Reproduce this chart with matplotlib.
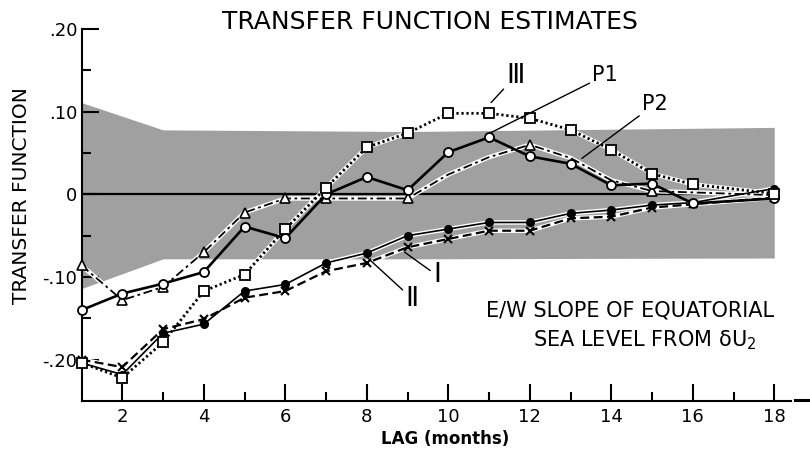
import matplotlib
matplotlib.use("Agg")
import matplotlib.pyplot as plt
from matplotlib.lines import Line2D

plt.rcParams['font.family'] = ['DejaVu Sans']

# lag in months
lag = [1, 2, 3, 4, 5, 6, 7, 8, 9, 10, 11, 12, 13, 14, 15, 16, 18]

p1 = [-0.140, -0.120, -0.108, -0.094, -0.039, -0.053, 0.000, 0.021, 0.005,
      0.051, 0.069, 0.046, 0.037, 0.011, 0.013, -0.011, -0.005]
est3 = [-0.204, -0.222, -0.179, -0.117, -0.097, -0.042, 0.008, 0.057, 0.074,
        0.098, 0.098, 0.092, 0.078, 0.054, 0.025, 0.012, 0.001]
est1 = [-0.204, -0.218, -0.168, -0.157, -0.117, -0.109, -0.083, -0.071, -0.050,
        -0.042, -0.034, -0.034, -0.023, -0.019, -0.013, -0.010, 0.007]
est2 = [-0.200, -0.209, -0.163, -0.151, -0.125, -0.117, -0.093, -0.083, -0.064,
        -0.054, -0.044, -0.044, -0.029, -0.027, -0.016, -0.012, -0.004]

# P2 is read only where its line is visible
lag_p2 = [1, 2, 3, 4, 5, 6, 7, 9, 10, 11, 12, 13, 14, 15, 18]
p2 = [-0.086, -0.128, -0.112, -0.070, -0.022, -0.005, -0.005, -0.005,
      0.024, 0.045, 0.060, 0.044, 0.017, 0.004, -0.001]
p2_marked = [0, 1, 2, 3, 4, 5, 6, 7, 10, 13]

# confidence band
band_lag = [1, 3, 9, 18]
band_hi = [0.111, 0.078, 0.076, 0.081]
band_lo = [-0.114, -0.078, -0.078, -0.077]

fig = plt.figure(figsize=(8.1, 4.54), dpi=100)
ax = fig.add_axes([0.1007, 0.1167, 0.8753, 0.8194])

ax.fill_between(band_lag, band_lo, band_hi, color='#a0a0a0', lw=0, zorder=0)
ax.hlines(0, lag[0], lag[-1], color='black', lw=1.6, zorder=1)


def halo(x, y):
    ax.plot(x, y, color='white', lw=3.2, zorder=2, solid_capstyle='round',
            clip_on=False)


# III - squares, dotted
halo(lag, est3)
ax.plot(lag, est3, color='black', lw=2.0, ls=(0, (0.8, 1.0)), zorder=3,
        clip_on=False)
ax.plot(lag, est3, ls='none', marker='s', ms=7, mfc='white', mec='black',
        mew=1.3, zorder=6, clip_on=False)

# P2 - triangles, dash-dot
halo(lag_p2, p2)
ax.plot(lag_p2, p2, color='black', lw=1.3, ls=(0, (5, 2, 1.5, 2)), zorder=3,
        marker='^', ms=7, mfc='white', mec='black', mew=1.2,
        markevery=p2_marked, clip_on=False)

# II - crosses, dashed
halo(lag, est2)
ax.plot(lag, est2, color='black', lw=1.6, ls=(0, (4, 2)), zorder=4,
        marker='x', ms=6, mec='black', mew=1.5, clip_on=False)

# I - filled circles, thin solid
halo(lag, est1)
ax.plot(lag, est1, color='black', lw=1.2, zorder=4, marker='o', ms=5.5,
        mfc='black', mec='black', clip_on=False)

# P1 - open circles, heavy solid
ax.plot(lag, p1, color='black', lw=1.9, zorder=5, marker='o', ms=6.5,
        mfc='white', mec='black', mew=1.3, clip_on=False)

ax.set_xlim(1, 18.4)
ax.set_ylim(-0.25, 0.20)

for side in ['top', 'right']:
    ax.spines[side].set_visible(False)
for side in ['left', 'bottom']:
    ax.spines[side].set_linewidth(1.5)

ax.set_xticks([2, 4, 6, 8, 10, 12, 14, 16, 18])
ax.set_xticks([3, 5, 7, 9, 11, 13, 15, 17], minor=True)
ax.set_yticks([-0.2, -0.1, 0, 0.1, 0.2])
ax.set_yticklabels(['-.20', '-.10', '0', '.10', '.20'])
ax.set_yticks([-0.15, -0.05, 0.05, 0.15], minor=True)
ax.tick_params(which='major', direction='in', length=12, width=1.5,
               labelsize=13, pad=5)
ax.tick_params(which='minor', direction='in', length=6.5, width=1.5)
ax.tick_params(axis='y', pad=3)

ax.set_xlabel('LAG (months)', fontsize=12, fontweight='bold')
ax.xaxis.set_label_coords(0.513, -0.077)
ax.set_ylabel('TRANSFER FUNCTION', fontsize=14.5)
ax.yaxis.set_label_coords(-0.072, 0.551)
fig.text(0.531, 0.952, 'TRANSFER FUNCTION ESTIMATES', fontsize=18,
         ha='center', va='center')

ax.text(14.47, -0.140, 'E/W SLOPE OF EQUATORIAL', fontsize=15,
        ha='center', va='center')
ax.text(14.83, -0.177, 'SEA LEVEL FROM \u03b4U$_2$', fontsize=15,
        ha='center', va='center')

lead = dict(arrowstyle='-', color='black', lw=1.0, shrinkA=0, shrinkB=0)
ax.annotate('\u2162', xy=(11.05, 0.111), xytext=(11.65, 0.143), fontsize=19,
            ha='center', va='center', arrowprops=lead, zorder=7)
ax.annotate('P1', xy=(11.02, 0.074), xytext=(13.85, 0.144), fontsize=15,
            ha='center', va='center', arrowprops=lead, zorder=7)
ax.annotate('P2', xy=(13.28, 0.0435), xytext=(15.07, 0.109), fontsize=15,
            ha='center', va='center', arrowprops=lead, zorder=7)
ax.annotate('\u2160', xy=(8.93, -0.070), xytext=(9.72, -0.098), fontsize=19,
            ha='center', va='center', arrowprops=lead, zorder=7)
ax.annotate('\u2161', xy=(7.98, -0.075), xytext=(9.11, -0.126), fontsize=19,
            ha='center', va='center', arrowprops=lead, zorder=7)

fig.add_artist(Line2D([0.982, 1.0], [0.119, 0.119], color='black', lw=2.2))

fig.savefig('out.png', dpi=100)
